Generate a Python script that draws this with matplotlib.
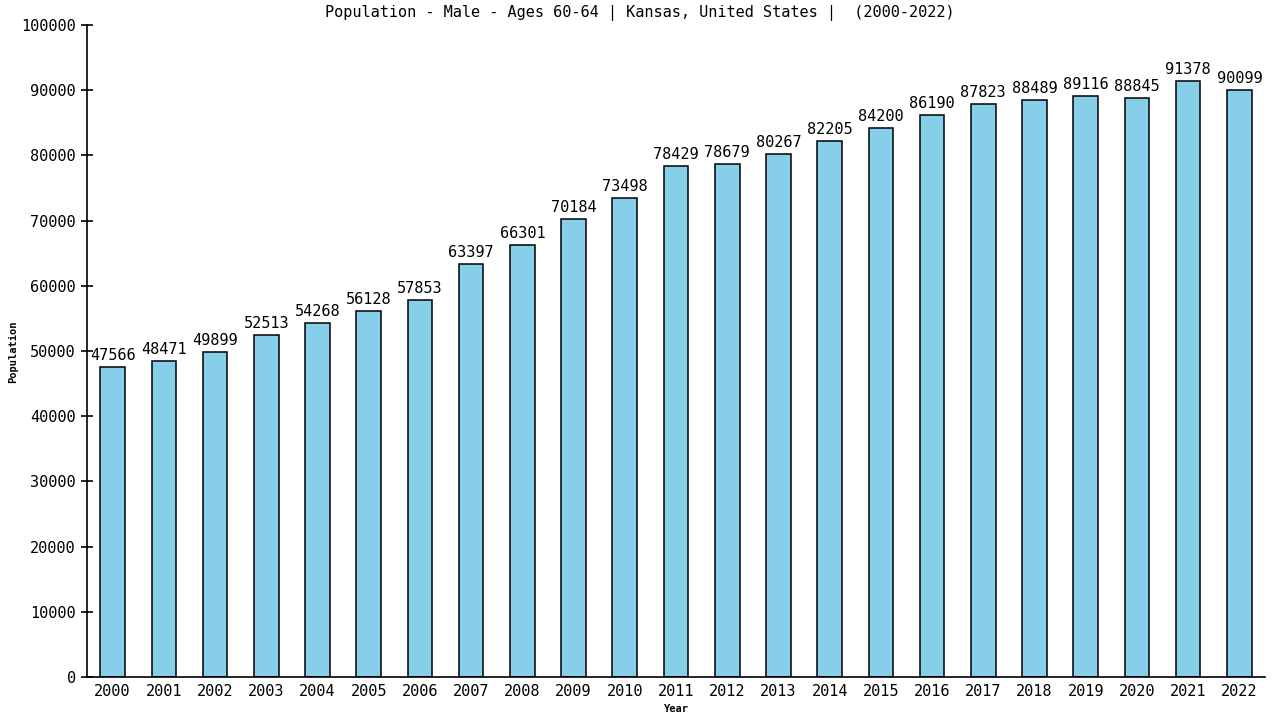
import matplotlib
matplotlib.use("Agg")
import matplotlib.pyplot as plt

years = [str(y) for y in range(2000, 2023)]
values = [47566, 48471, 49899, 52513, 54268, 56128, 57853, 63397, 66301, 70184,
          73498, 78429, 78679, 80267, 82205, 84200, 86190, 87823, 88489, 89116,
          88845, 91378, 90099]
yticks = list(range(0, 100001, 10000))

plt.rcParams['font.family'] = ['DejaVu Sans Mono']

fig = plt.figure(figsize=(12.8, 7.2), dpi=100)
ax = fig.add_axes([87/1280, 43/720, (1265-87)/1280, (677-25)/720])

x = list(range(len(years)))
ax.bar(x, values, width=0.48, color='#87CEEB', edgecolor='black', linewidth=1.1)
for xi, v in zip(x, values):
    ax.text(xi, v + 600, str(v), ha='center', va='bottom', fontsize=11)

ax.set_xlim(-0.5, len(years) - 0.5)
ax.set_ylim(0, 100000)
ax.set_yticks(yticks)
ax.set_yticklabels([str(t) for t in yticks], fontsize=11)
ax.set_xticks(x)
ax.set_xticklabels(years, fontsize=11)
ax.tick_params(axis='x', length=0, pad=5)
ax.tick_params(axis='y', direction='inout', length=8, width=1.2, pad=4)
for s in ['top', 'right']:
    ax.spines[s].set_visible(False)
for s in ['left', 'bottom']:
    ax.spines[s].set_linewidth(1.2)

fig.text(0.5, 1 - 13/720, 'Population - Male - Ages 60-64 | Kansas, United States |  (2000-2022)',
         fontsize=11, ha='center', va='center')
ax.set_xlabel('Year', fontsize=7.5, fontweight='bold', labelpad=4)
fig.text(13/1280, 1 - 352/720, 'Population', fontsize=7.5, fontweight='bold',
         rotation=90, ha='center', va='center')

fig.savefig('out.png', dpi=100)
